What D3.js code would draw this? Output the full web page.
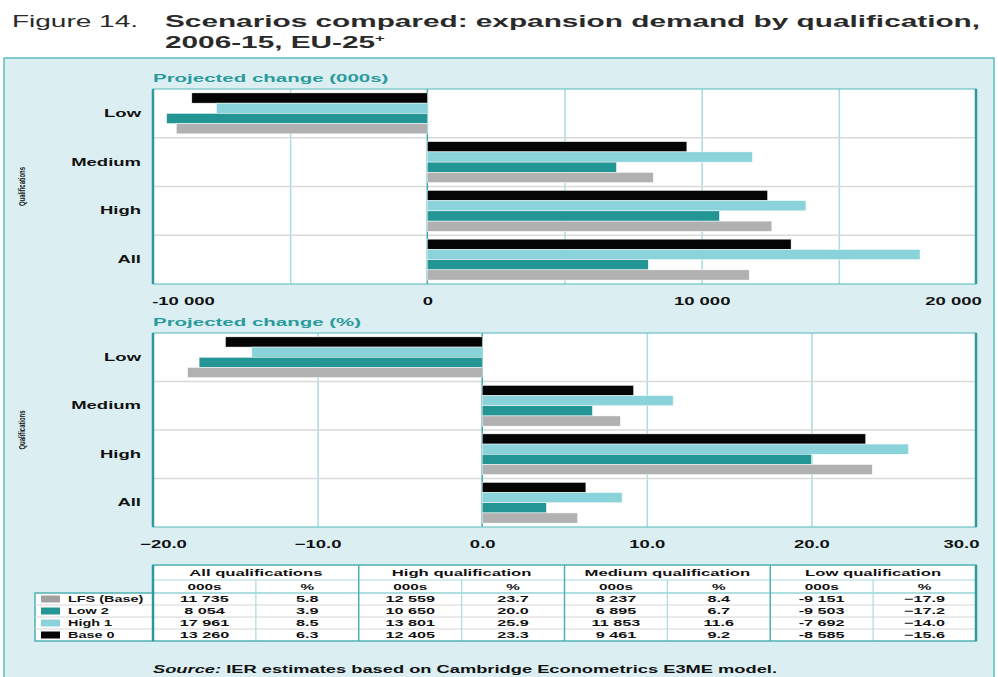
<!DOCTYPE html>
<html>
<head>
<meta charset="utf-8">
<script src="https://cdn.jsdelivr.net/npm/d3@7"></script>
<style>
  body { margin: 0; background: #fff; }
  text { font-family: "Liberation Sans", Arial, sans-serif; }
</style>
</head>
<body>
<script>
// Data
const categories = ['Low', 'Medium', 'High', 'All']
const seriesNames = ['Base 0', 'High 1', 'Low 2', 'LFS (Base)']   // bar order, top to bottom
const seriesColors = ['#050505', '#8ad3db', '#229594', '#b1b1b1']

// projected change, 000s (Low, Medium, High, All)
const base0Thousands = [-8585, 9461, 12405, 13260]
const high1Thousands = [-7692, 11853, 13801, 17961]
const low2Thousands = [-9503, 6895, 10650, 8054]
const lfsThousands = [-9151, 8237, 12559, 11735]

// projected change, % (Low, Medium, High, All)
const base0Pct = [-15.6, 9.2, 23.3, 6.3]
const high1Pct = [-14.0, 11.6, 25.9, 8.5]
const low2Pct = [-17.2, 6.7, 20.0, 3.9]
const lfsPct = [-17.9, 8.4, 23.7, 5.8]

const thousandsTicks = [-10000, 0, 10000, 20000]
const thousandsGrid = [-5000, 5000, 10000, 15000]
const pctTicks = [-20, -10, 0, 10, 20, 30]
const pctGrid = [-10, 10, 20]

const tableGroups = ['All qualifications', 'High qualification', 'Medium qualification', 'Low qualification']
const tableGroupCats = ['All', 'High', 'Medium', 'Low']
const tableRows = ['LFS (Base)', 'Low 2', 'High 1', 'Base 0']

// Dimensions
const WIDTH = 998
const HEIGHT = 677
const PLOT_LEFT = 153
const PLOT_RIGHT = 976
const TEAL = '#2a9a9c'
const TEAL_LIGHT = '#a9dcdf'
const BG = '#dbeff2'

const svg = d3.select('body').append('svg')
    .attr('width', WIDTH)
    .attr('height', HEIGHT)

// widen glyphs like the extended face of the original
function stretch(sel, k) {
    sel.each(function () {
        const n = this.getComputedTextLength()
        d3.select(this).attr('textLength', n * k).attr('lengthAdjust', 'spacingAndGlyphs')
    })
    return sel
}

const fmtThousands = v => d3.format(',')(v).replace(/,/g, ' ').replace('−', '-')
const fmtPct = d3.format('.1f')

// Title
svg.append('text')
    .attr('x', 12).attr('y', 27)
    .attr('font-size', 16).attr('fill', '#2a2a2a')
    .attr('textLength', 126).attr('lengthAdjust', 'spacingAndGlyphs')
    .text('Figure 14.')

const t1 = svg.append('text')
    .attr('x', 165).attr('y', 27)
    .attr('font-size', 16).attr('font-weight', 'bold').attr('fill', '#2a2a2a')
    .text('Scenarios compared: expansion demand by qualification,')
const k1 = 815 / t1.node().getComputedTextLength()
t1.attr('textLength', 815).attr('lengthAdjust', 'spacingAndGlyphs')

const t2 = svg.append('text')
    .attr('x', 165).attr('y', 48)
    .attr('font-size', 16).attr('font-weight', 'bold').attr('fill', '#2a2a2a')
t2.append('tspan').text('2006-15, EU-25')
t2.append('tspan').attr('font-size', 9).attr('dy', -6).text('+')
stretch(t2, k1)

// Panel
svg.append('rect')
    .attr('x', 4).attr('y', 58)
    .attr('width', 990).attr('height', 640)
    .attr('fill', BG)
    .attr('stroke', '#5dbcbf').attr('stroke-width', 1.5)

function drawChart(opt) {
    const g = svg.append('g')
    const x = d3.scaleLinear().domain(opt.domain).range([PLOT_LEFT, PLOT_RIGHT])
    const y0 = d3.scaleBand().domain(categories).range([opt.top, opt.bottom])
    const y1 = d3.scaleBand().domain(seriesNames).range([0, y0.bandwidth()])
        .paddingOuter(0.38)
    const h = opt.bottom - opt.top

    // subtitle
    stretch(g.append('text')
        .attr('x', PLOT_LEFT).attr('y', opt.top - 7)
        .attr('font-size', 11).attr('font-weight', 'bold').attr('fill', TEAL)
        .text(opt.title), 1.86)

    g.append('rect')
        .attr('x', PLOT_LEFT).attr('y', opt.top)
        .attr('width', PLOT_RIGHT - PLOT_LEFT).attr('height', h)
        .attr('fill', '#fff')

    // vertical grid
    g.append('g')
        .attr('transform', `translate(0, ${opt.bottom})`)
        .call(d3.axisBottom(x).tickValues(opt.grid).tickSize(-h).tickFormat(''))
        .call(a => a.select('.domain').remove())
        .call(a => a.selectAll('line').attr('stroke', TEAL_LIGHT).attr('stroke-width', 1.5))

    // category separators
    g.selectAll('.sep')
        .data(categories.slice(1))
        .enter()
        .append('line')
        .attr('x1', PLOT_LEFT).attr('x2', PLOT_RIGHT)
        .attr('y1', d => y0(d)).attr('y2', d => y0(d))
        .attr('stroke', '#d9d9d9').attr('stroke-width', 1.5)

    // zero line
    g.append('line')
        .attr('x1', x(0)).attr('x2', x(0))
        .attr('y1', opt.top).attr('y2', opt.bottom)
        .attr('stroke', '#3fa8aa').attr('stroke-width', 1.5)

    // bars
    const rows = []
    opt.values.forEach((vals, s) => {
        vals.forEach((v, c) => rows.push({ cat: categories[c], s: seriesNames[s], color: seriesColors[s], v }))
    })
    g.selectAll('.bar')
        .data(rows)
        .enter()
        .append('rect')
        .attr('x', d => Math.min(x(0), x(d.v)))
        .attr('y', d => y0(d.cat) + y1(d.s))
        .attr('width', d => Math.abs(x(d.v) - x(0)))
        .attr('height', y1.bandwidth())
        .attr('fill', d => d.color)
        .attr('stroke', '#fff').attr('stroke-width', 0.5)

    // frame
    g.append('rect')
        .attr('x', PLOT_LEFT).attr('y', opt.top)
        .attr('width', PLOT_RIGHT - PLOT_LEFT).attr('height', h)
        .attr('fill', 'none').attr('stroke', '#6cc2c5').attr('stroke-width', 1.2)
    g.selectAll('.side')
        .data([PLOT_LEFT, PLOT_RIGHT])
        .enter()
        .append('line')
        .attr('x1', d => d).attr('x2', d => d)
        .attr('y1', opt.top).attr('y2', opt.bottom)
        .attr('stroke', TEAL).attr('stroke-width', 2.5)

    // x labels
    const xa = g.append('g')
        .attr('transform', `translate(0, ${opt.bottom})`)
        .call(d3.axisBottom(x).tickValues(opt.ticks).tickSize(0).tickPadding(13).tickFormat(opt.fmt))
    xa.select('.domain').remove()
    xa.selectAll('text')
        .attr('font-family', '"Liberation Sans", Arial, sans-serif')
        .attr('font-size', 11).attr('font-weight', 'bold').attr('fill', '#111')
        .attr('dx', (d, i, n) => i === 0 ? opt.firstDx : (i === n.length - 1 ? opt.lastDx : 0))
    stretch(xa.selectAll('text'), 1.68)

    // y labels
    const ya = g.append('g')
        .attr('transform', `translate(${PLOT_LEFT}, 0)`)
        .call(d3.axisLeft(y0).tickSize(0).tickPadding(12))
    ya.select('.domain').remove()
    ya.selectAll('text')
        .attr('font-family', '"Liberation Sans", Arial, sans-serif')
        .attr('font-size', 11).attr('font-weight', 'bold').attr('fill', '#111')
    stretch(ya.selectAll('text'), 1.68)

    g.append('text')
        .attr('transform', `translate(25, ${(opt.top + opt.bottom) / 2}) rotate(-90)`)
        .attr('text-anchor', 'middle')
        .attr('font-size', 8.5).attr('font-weight', 'bold').attr('fill', '#111')
        .attr('textLength', 39).attr('lengthAdjust', 'spacingAndGlyphs')
        .text('Qualifications')
}

drawChart({
    title: 'Projected change (000s)',
    top: 89, bottom: 284,
    domain: [-10000, 20000],
    ticks: thousandsTicks, grid: thousandsGrid,
    fmt: fmtThousands,
    values: [base0Thousands, high1Thousands, low2Thousands, lfsThousands],
    firstDx: 30, lastDx: -23
})

drawChart({
    title: 'Projected change (%)',
    top: 333, bottom: 527,
    domain: [-20, 30],
    ticks: pctTicks, grid: pctGrid,
    fmt: fmtPct,
    values: [base0Pct, high1Pct, low2Pct, lfsPct],
    firstDx: 10, lastDx: -15
})

// Table
const tableThousands = { 'LFS (Base)': lfsThousands, 'Low 2': low2Thousands, 'High 1': high1Thousands, 'Base 0': base0Thousands }
const tablePct = { 'LFS (Base)': lfsPct, 'Low 2': low2Pct, 'High 1': high1Pct, 'Base 0': base0Pct }
const rowColor = { 'LFS (Base)': '#a0a0a0', 'Low 2': '#229594', 'High 1': '#8ad3db', 'Base 0': '#050505' }

const TOP = 565, H1 = 15, H2 = 13, ROW_H = 12
const dataTop = TOP + H1 + H2
const tableBottom = dataTop + ROW_H * tableRows.length
const gx = d3.scaleBand().domain(tableGroups).range([PLOT_LEFT, PLOT_RIGHT])
const sx = d3.scaleBand().domain(['000s', '%']).range([0, gx.bandwidth()])
const ry = d3.scaleBand().domain(tableRows).range([dataTop, tableBottom])
const tg = svg.append('g')

tg.append('rect')
    .attr('x', PLOT_LEFT).attr('y', TOP)
    .attr('width', PLOT_RIGHT - PLOT_LEFT).attr('height', tableBottom - TOP)
    .attr('fill', '#fff')
tg.append('rect')
    .attr('x', 35).attr('y', dataTop)
    .attr('width', PLOT_LEFT - 35).attr('height', tableBottom - dataTop)
    .attr('fill', '#fff').attr('stroke', '#4fb1b4').attr('stroke-width', 1.5)

// row lines
tg.selectAll('.rline')
    .data(tableRows.slice(1))
    .enter()
    .append('line')
    .attr('x1', 35).attr('x2', PLOT_RIGHT)
    .attr('y1', d => ry(d)).attr('y2', d => ry(d))
    .attr('stroke', '#d6d6d6').attr('stroke-width', 1)
tg.append('line')
    .attr('x1', PLOT_LEFT).attr('x2', PLOT_RIGHT)
    .attr('y1', TOP + H1).attr('y2', TOP + H1)
    .attr('stroke', TEAL_LIGHT).attr('stroke-width', 1.2)
tg.append('line')
    .attr('x1', PLOT_LEFT).attr('x2', PLOT_RIGHT)
    .attr('y1', dataTop).attr('y2', dataTop)
    .attr('stroke', '#5fbdc0').attr('stroke-width', 1.2)

// sub column lines
tg.selectAll('.sline')
    .data(tableGroups)
    .enter()
    .append('line')
    .attr('x1', d => gx(d) + sx('%')).attr('x2', d => gx(d) + sx('%'))
    .attr('y1', TOP + H1).attr('y2', tableBottom)
    .attr('stroke', TEAL_LIGHT).attr('stroke-width', 1.2)

// group lines + frame
tg.selectAll('.gline')
    .data(tableGroups.slice(1))
    .enter()
    .append('line')
    .attr('x1', d => gx(d)).attr('x2', d => gx(d))
    .attr('y1', TOP).attr('y2', tableBottom)
    .attr('stroke', '#4fb1b4').attr('stroke-width', 1.5)
tg.append('rect')
    .attr('x', PLOT_LEFT).attr('y', TOP)
    .attr('width', PLOT_RIGHT - PLOT_LEFT).attr('height', tableBottom - TOP)
    .attr('fill', 'none').attr('stroke', '#4fb1b4').attr('stroke-width', 1.5)
tg.selectAll('.side')
    .data([PLOT_LEFT, PLOT_RIGHT])
    .enter()
    .append('line')
    .attr('x1', d => d).attr('x2', d => d)
    .attr('y1', TOP).attr('y2', tableBottom)
    .attr('stroke', TEAL).attr('stroke-width', 2.5)

function cellText(x, y, s) {
    return tg.append('text')
        .attr('x', x).attr('y', y)
        .attr('dy', '0.35em')
        .attr('text-anchor', 'middle')
        .attr('font-size', 9).attr('font-weight', 'bold').attr('fill', '#111')
        .text(s)
}

tableGroups.forEach((grp, gi) => {
    stretch(cellText(gx(grp) + gx.bandwidth() / 2, TOP + H1 / 2, grp), 1.85)
    stretch(cellText(gx(grp) + sx('000s') + sx.bandwidth() / 2, TOP + H1 + H2 / 2, '000s'), 1.7)
    stretch(cellText(gx(grp) + sx('%') + sx.bandwidth() / 2, TOP + H1 + H2 / 2, '%'), 1.7)
    const ci = categories.indexOf(tableGroupCats[gi])
    tableRows.forEach(r => {
        const yy = ry(r) + ry.bandwidth() / 2
        stretch(cellText(gx(grp) + sx('000s') + sx.bandwidth() / 2, yy, fmtThousands(tableThousands[r][ci])), 1.8)
        stretch(cellText(gx(grp) + sx('%') + sx.bandwidth() / 2, yy, fmtPct(tablePct[r][ci])), 1.8)
    })
})

// legend column
tableRows.forEach(r => {
    const yy = ry(r) + ry.bandwidth() / 2
    tg.append('rect')
        .attr('x', 41).attr('y', yy - 3.5)
        .attr('width', 19).attr('height', 7)
        .attr('fill', rowColor[r])
    stretch(tg.append('text')
        .attr('x', 68).attr('y', yy).attr('dy', '0.35em')
        .attr('font-size', 9).attr('font-weight', 'bold').attr('fill', '#111')
        .text(r), 1.6)
})

// Source
const src = svg.append('text')
    .attr('x', PLOT_LEFT).attr('y', 673)
    .attr('font-size', 11).attr('font-weight', 'bold').attr('fill', '#111')
    .attr('textLength', 624).attr('lengthAdjust', 'spacingAndGlyphs')
src.append('tspan').attr('font-style', 'italic').text('Source:')
src.append('tspan').text(' IER estimates based on Cambridge Econometrics E3ME model.')
</script>
</body>
</html>
